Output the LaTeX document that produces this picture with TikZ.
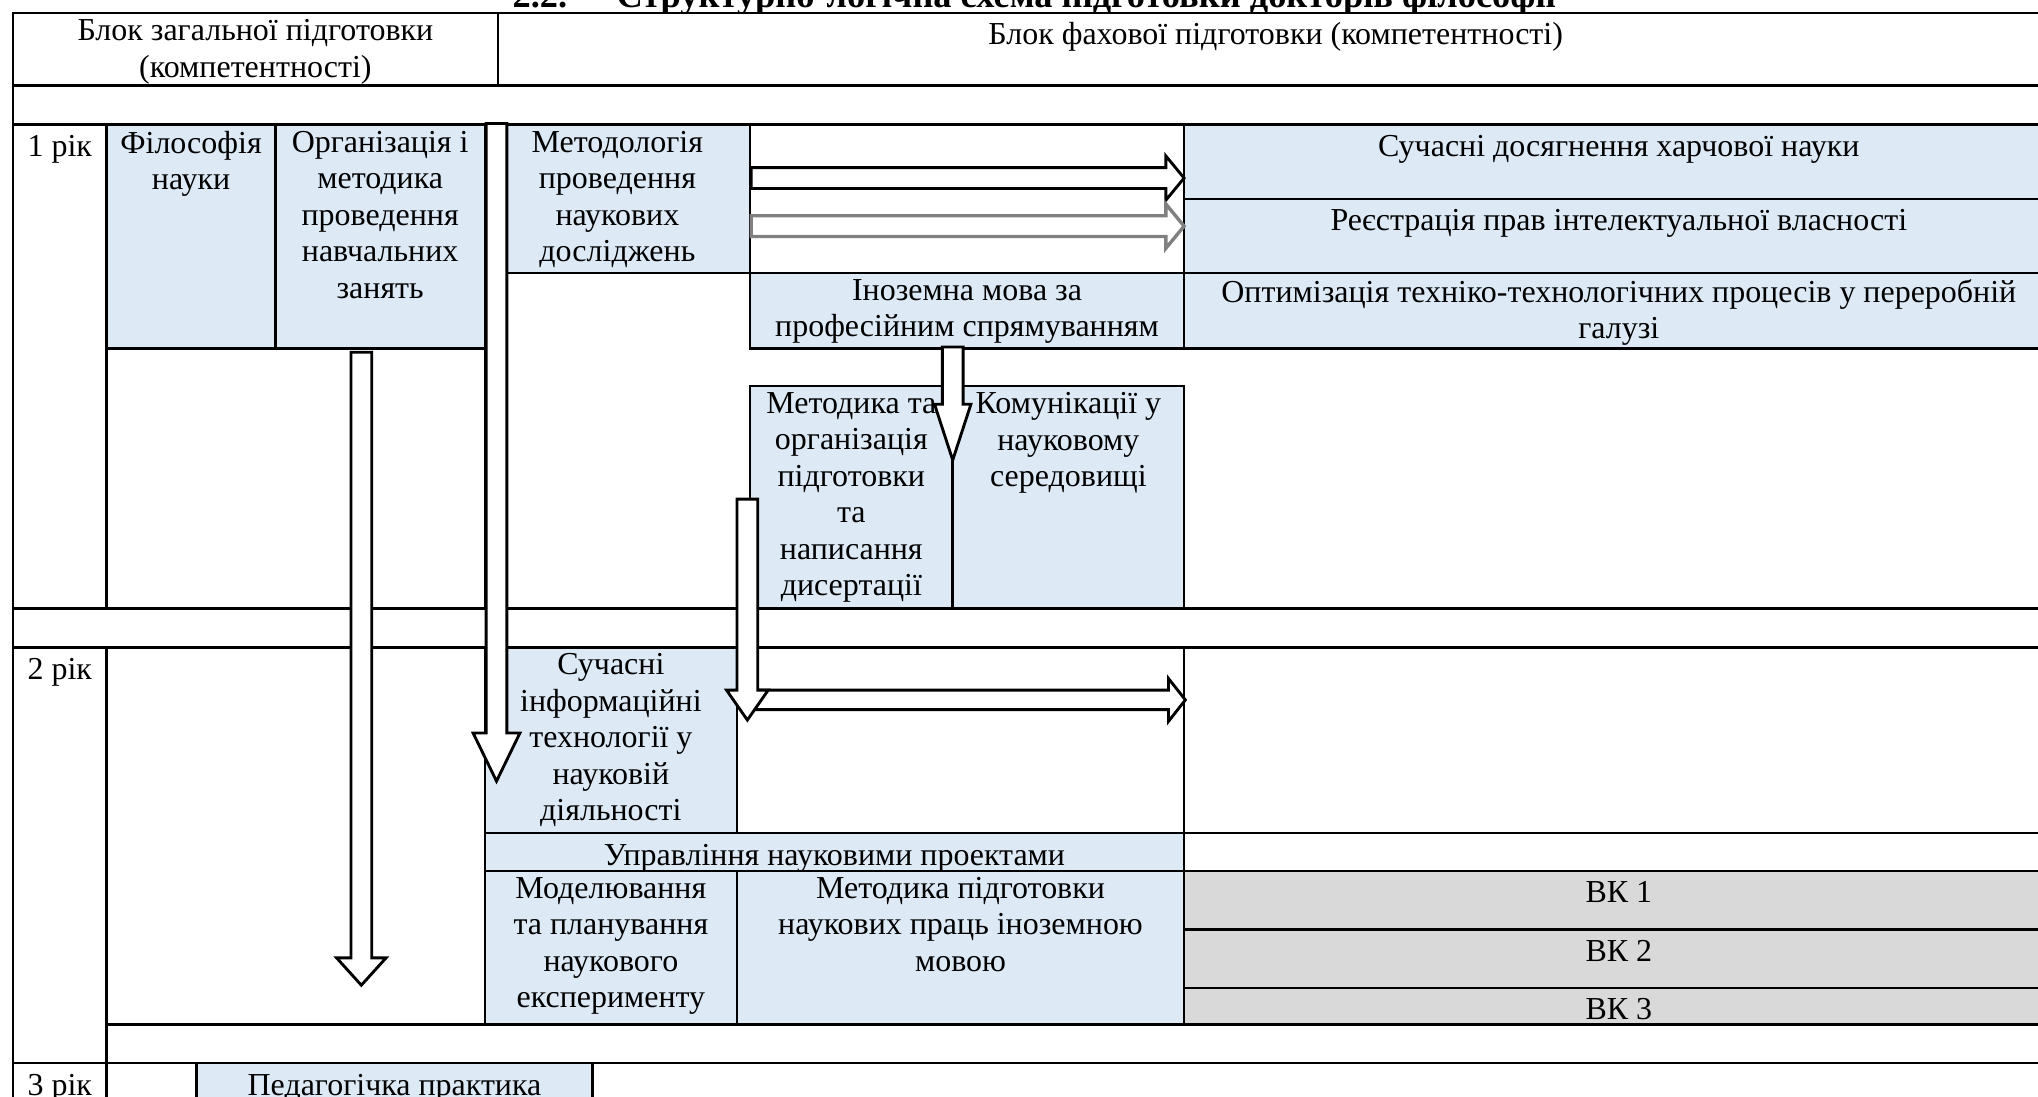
\documentclass[tikz,border=0pt]{standalone}
\usepackage{fontspec}
\setmainfont{Liberation Serif}
\usepackage{tikz}
\definecolor{cellblue}{RGB}{221,234,246}
\definecolor{cellgrey}{RGB}{217,217,217}
\tikzset{
    x=0.5pt, y=-0.5pt, % one unit is one pixel of the scanned page, y runs down
    }
\begin{document}
\begin{tikzpicture}[
whitecell/.style={draw=black, line width=1pt, fill=white},
bluecell/.style={draw=black, line width=1pt, fill=cellblue},
greycell/.style={draw=black, line width=1pt, fill=cellgrey},
celltext/.style={anchor=north, inner sep=0pt, yshift=-2.3pt, align=center, font=\fontsize{12.3}{14}\selectfont, execute at begin node=\strut},
blockarrow/.style={draw=black, line width=1.1pt, fill=white, line join=miter},
]
\clip (0,0) rectangle (1568,844);
\node[anchor=base west, inner sep=0pt, font=\fontsize{14}{16}\selectfont\bfseries] (title) at (394,6) {2.2.\hspace{19pt}Структурно-логічна схема підготовки докторів філософії};

% header
\draw[whitecell] (10,10) rectangle (383,66);
\draw[whitecell] (383,10) rectangle (1580,66);
\node[celltext] (genhead) at (196.5,10) {Блок загальної підготовки\\(компетентності)};
\node[celltext] (profhead) at (981.5,10) {Блок фахової підготовки (компетентності)};
\draw[whitecell] (10,66) rectangle (1580,96);

% 1 рік
\draw[whitecell] (10,96) rectangle (82,468);
\draw[bluecell] (82,96) rectangle (212,268);
\draw[bluecell] (212,96) rectangle (373,268);
\draw[bluecell] (373,96) rectangle (577,210);
\draw[whitecell] (577,96) rectangle (911,210);
\draw[bluecell] (911,96) rectangle (1580,153);
\draw[bluecell] (911,153) rectangle (1580,210);
\draw[bluecell] (577,210) rectangle (911,268);
\draw[bluecell] (911,210) rectangle (1580,268);
\draw[whitecell] (82,268) rectangle (373,468);
\draw[bluecell] (577,297) rectangle (733,468);
\draw[bluecell] (733,297) rectangle (911,468);
\draw[whitecell] (10,468) rectangle (1580,498);

\node[celltext] (year1) at (46,96) {1 рік};
\node[celltext] (philos) at (147,96) {Філософія\\науки};
\node[celltext] (teach) at (292.5,96) {Організація і\\методика\\проведення\\навчальних\\занять};
\node[celltext] (method) at (475,96) {Методологія\\проведення\\наукових\\досліджень};
\node[celltext] (food) at (1245.5,96) {Сучасні досягнення харчової науки};
\node[celltext] (patent) at (1245.5,153) {Реєстрація прав інтелектуальної власності};
\node[celltext] (lang) at (744,210) {Іноземна мова за\\професійним спрямуванням};
\node[celltext] (optim) at (1245.5,210) {Оптимізація техніко-технологічних процесів у переробній\\галузі};
\node[celltext] (thesis) at (655,297) {Методика та\\організація\\підготовки\\та\\написання\\дисертації};
\node[celltext] (comm) at (822,297) {Комунікації у\\науковому\\середовищі};

% 2 рік
\draw[whitecell] (10,498) rectangle (82,818);
\draw[whitecell] (82,498) rectangle (373,788);
\draw[bluecell] (373,498) rectangle (567,641);
\draw[whitecell] (567,498) rectangle (911,641);
\draw[whitecell] (911,498) rectangle (1580,641);
\draw[bluecell] (373,641) rectangle (911,670);
\draw[whitecell] (911,641) rectangle (1580,670);
\draw[bluecell] (373,670) rectangle (567,788);
\draw[bluecell] (567,670) rectangle (911,788);
\draw[greycell] (911,670) rectangle (1580,715);
\draw[greycell] (911,715) rectangle (1580,760);
\draw[greycell] (911,760) rectangle (1580,788);
\draw[whitecell] (82,788) rectangle (1580,818);

\node[celltext] (year2) at (46,498) {2 рік};
\node[celltext] (infotech) at (470,498) {Сучасні\\інформаційні\\технології у\\науковій\\діяльності};
\node[celltext] (manage) at (642,641) {Управління науковими проектами};
\node[celltext] (model) at (470,670) {Моделювання\\та планування\\наукового\\експерименту};
\node[celltext] (papers) at (739,670) {Методика підготовки\\наукових праць іноземною\\мовою};
\node[celltext] (vk1) at (1245.5,670) {ВК 1};
\node[celltext] (vk2) at (1245.5,715) {ВК 2};
\node[celltext] (vk3) at (1245.5,760) {ВК 3};

% 3 рік
\draw[whitecell] (10,818) rectangle (82,870);
\draw[whitecell] (82,818) rectangle (151,870);
\draw[bluecell] (151,818) rectangle (456,870);
\draw[whitecell] (456,818) rectangle (1580,870);
\node[celltext] (year3) at (46,818) {3 рік};
\node[celltext] (practice) at (303.5,818) {Педагогічка практика};

% block arrows
\draw[blockarrow] (578,129) -- (897,129) -- (897,120) -- (911,137) -- (897,154) -- (897,145) -- (578,145) -- cycle;
\draw[blockarrow, draw=gray, line width=1.3pt] (578,166) -- (897,166) -- (897,157) -- (911,174) -- (897,191) -- (897,182) -- (578,182) -- cycle;
\draw[blockarrow] (270,271) -- (286,271) -- (286,737) -- (297,737) -- (278,758) -- (259,737) -- (270,737) -- cycle;
\draw[blockarrow] (374,95) -- (390,95) -- (390,564) -- (400,564) -- (382,601) -- (364,564) -- (374,564) -- cycle;
\draw[blockarrow] (725,267) -- (741,267) -- (741,311) -- (747,311) -- (733,354) -- (719,311) -- (725,311) -- cycle;
\draw[blockarrow] (575,531) -- (899,531) -- (899,522) -- (912,538.5) -- (899,555) -- (899,546) -- (575,546) -- cycle;
\draw[blockarrow] (567,384) -- (583,384) -- (583,531) -- (591,531) -- (575,554) -- (559,531) -- (567,531) -- cycle;
\end{tikzpicture}
\end{document}
